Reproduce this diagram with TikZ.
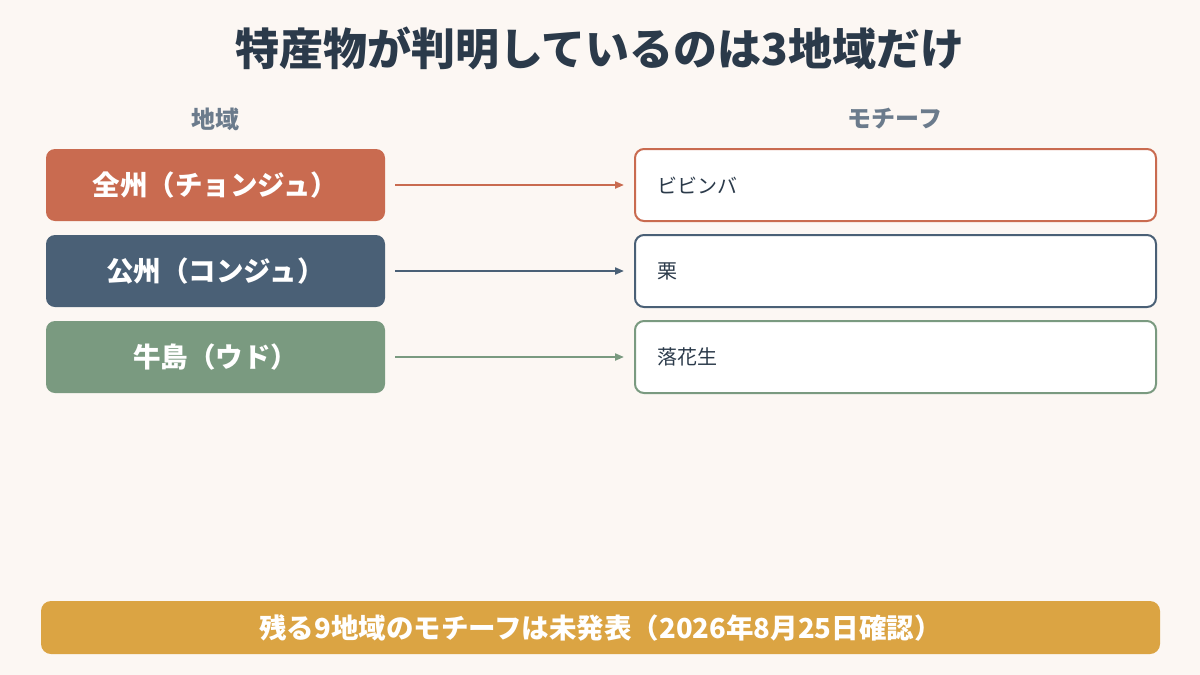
\documentclass[tikz,border=0pt]{standalone}
\usepackage{fontspec}
\setmainfont{Noto Sans CJK JP}
\usetikzlibrary{arrows.meta}
\definecolor{bg}{HTML}{FCF7F3}
\definecolor{ttl}{HTML}{2B3A4A}
\definecolor{hd}{HTML}{6B7B8C}
\definecolor{c1}{HTML}{C96B50}
\definecolor{c2}{HTML}{4A6076}
\definecolor{c3}{HTML}{7A9A80}
\definecolor{gold}{HTML}{DBA443}
\begin{document}
\begin{tikzpicture}[x=1pt,y=-1pt,
 lbox/.style={rounded corners=9pt,minimum width=339pt,minimum height=72pt,text=white,font=\fontsize{27.5}{32}\selectfont\bfseries,inner sep=0},
 rbox/.style={draw,line width=2pt,fill=white,rounded corners=9pt,minimum width=521pt,minimum height=72pt,text=ttl,inner sep=0},
 rtxt/.style={anchor=west,text=ttl,font=\fontsize{20}{24}\selectfont},
 arr/.style={line width=2pt,-{Triangle[length=9pt,width=7pt]}}]
\fill[bg] (0,0) rectangle (1200,675);
\node[text=ttl,font=\fontsize{44}{50}\selectfont\bfseries] (t) at (600,48) {特産物が判明しているのは3地域だけ};
\node[text=hd,font=\fontsize{24}{28}\selectfont\bfseries] (h1) at (215,119) {地域};
\node[text=hd,font=\fontsize{24}{28}\selectfont\bfseries] (h2) at (895,119) {モチーフ};
\node[lbox,fill=c1] (a1) at (215.5,185) {全州（チョンジュ）};
\node[lbox,fill=c2] (a2) at (215.5,271) {公州（コンジュ）};
\node[lbox,fill=c3] (a3) at (215.5,357) {牛島（ウド）};
\node[rbox,draw=c1] (b1) at (895.5,185) {};
\node[rbox,draw=c2] (b2) at (895.5,271) {};
\node[rbox,draw=c3] (b3) at (895.5,357) {};
\node[rtxt] (t1) at (654,185) {ビビンバ};
\node[rtxt] (t2) at (654,271) {栗};
\node[rtxt] (t3) at (654,357) {落花生};
\draw[arr,c1] ([xshift=10pt]a1.east) -- ([xshift=-10pt]b1.west);
\draw[arr,c2] ([xshift=10pt]a2.east) -- ([xshift=-10pt]b2.west);
\draw[arr,c3] ([xshift=10pt]a3.east) -- ([xshift=-10pt]b3.west);
\node[fill=gold,rounded corners=10pt,minimum width=1119pt,minimum height=53pt,text=white,font=\fontsize{27.5}{32}\selectfont\bfseries] (f) at (600.5,627.5) {残る9地域のモチーフは未発表（2026年8月25日確認）};
\end{tikzpicture}
\end{document}
